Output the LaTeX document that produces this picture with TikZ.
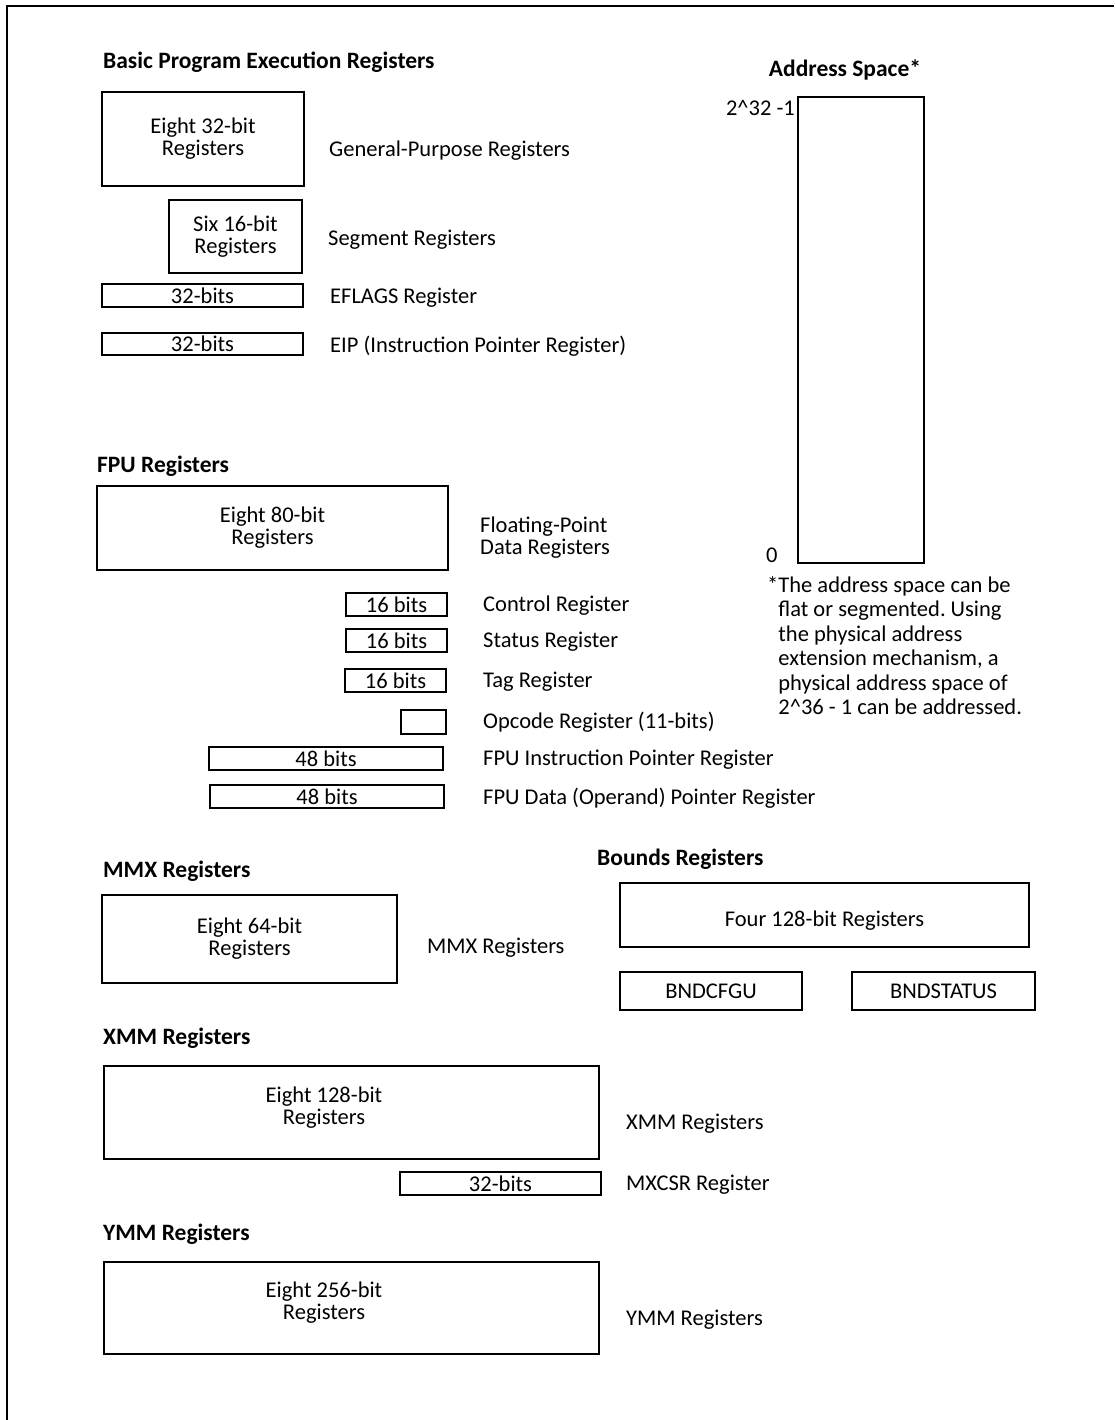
\documentclass[tikz,border=0pt]{standalone}
\usepackage{fontspec}
\setmainfont{Carlito}
\usepackage{xcolor}
\definecolor{ink}{HTML}{000000}
\frenchspacing

\begin{document}
\begin{tikzpicture}[x=1pt, y=-1pt,
    every node/.style={font=\fontsize{22.5}{22}\selectfont, text=ink},
    reg/.style={draw=ink, line width=2pt, inner sep=0pt, align=center},
    lbl/.style={anchor=west, inner sep=0pt, align=left, yshift=-2pt},
    head/.style={anchor=west, inner sep=0pt, font=\fontsize{23.5}{22}\selectfont\bfseries}]
  \useasboundingbox (0,0) rectangle (1114,1420);
  \draw[line width=2pt, color=ink] (7,1420) -- (7,6) -- (1114,6);

  % basic program execution registers
  \node[head] (basic) at (103,62) {Basic Program Execution Registers};
  \node[reg, minimum width=202, minimum height=94] (gpr) at (203,139) {Eight 32-bit\\Registers};
  \node[lbl] (gpr-l) at (329,149) {General-Purpose Registers};
  \node[reg, minimum width=133, minimum height=73] (seg) at (235.5,236.5) {Six 16-bit\\Registers};
  \node[lbl] (seg-l) at (328,238) {Segment Registers};
  \node[reg, minimum width=201, minimum height=23] (eflags) at (202.5,295.5) {32-bits};
  \node[lbl] (eflags-l) at (330,296) {EFLAGS Register};
  \node[reg, minimum width=201, minimum height=22] (eip) at (202.5,344) {32-bits};
  \node[lbl] (eip-l) at (330,344) {EIP (Instruction Pointer Register)};

  % address space
  \node[font=\fontsize{23.5}{22}\selectfont\bfseries] (addr-h) at (845,70) {Address Space*};
  \node[reg, minimum width=126, minimum height=466] (addr) at (861,330) {};
  \node[anchor=east, inner sep=0pt] (top) at (795,108) {2\textasciicircum32 -1};
  \node[lbl] (zero) at (766,553) {0};
  \node[anchor=north west, inner sep=0pt, align=left,
        font=\fontsize{22.5}{24.5}\selectfont] (note) at (767,576)
    {*The address space can be\\
     \hphantom{*}flat or segmented. Using\\
     \hphantom{*}the physical address\\
     \hphantom{*}extension mechanism, a\\
     \hphantom{*}physical address space of\\
     \hphantom{*}2\textasciicircum36 - 1 can be addressed.};

  % fpu registers
  \node[head] (fpu-h) at (97,466) {FPU Registers};
  \node[reg, minimum width=351, minimum height=84] (fpu) at (272.5,528) {Eight 80-bit\\Registers};
  \node[lbl] (fpu-l) at (480,536) {Floating-Point\\Data Registers};
  \node[reg, minimum width=101, minimum height=23] (ctrl) at (396.5,604.5) {16 bits};
  \node[lbl] (ctrl-l) at (483,604) {Control Register};
  \node[reg, minimum width=101, minimum height=23] (stat) at (396.5,640.5) {16 bits};
  \node[lbl] (stat-l) at (483,640) {Status Register};
  \node[reg, minimum width=101, minimum height=23] (tag) at (395.5,680.5) {16 bits};
  \node[lbl] (tag-l) at (483,680) {Tag Register};
  \node[reg, minimum width=45, minimum height=24] (opc) at (423.5,722) {};
  \node[lbl] (opc-l) at (483,720) {Opcode Register (11-bits)};
  \node[reg, minimum width=234, minimum height=23] (fip) at (326,758.5) {48 bits};
  \node[lbl] (fip-l) at (483,758) {FPU Instruction Pointer Register};
  \node[reg, minimum width=234, minimum height=23] (fdp) at (327,796.5) {48 bits};
  \node[lbl] (fdp-l) at (483,796) {FPU Data (Operand) Pointer Register};

  % mmx and bounds registers
  \node[head] (mmx-h) at (103,871) {MMX Registers};
  \node[reg, minimum width=295, minimum height=88] (mmx) at (249.5,939) {Eight 64-bit\\Registers};
  \node[lbl] (mmx-l) at (427,946) {MMX Registers};
  \node[head] (bnd-h) at (597,859) {Bounds Registers};
  \node[reg, minimum width=409, minimum height=64, text height=28, text depth=5] (bnd) at (824.5,915) {Four 128-bit Registers};
  \node[reg, minimum width=182, minimum height=38] (cfgu) at (711,991) {BNDCFGU};
  \node[reg, minimum width=183, minimum height=38] (bstat) at (943.5,991) {BNDSTATUS};

  % xmm registers
  \node[head] (xmm-h) at (103,1038) {XMM Registers};
  \node[reg, minimum width=495, minimum height=93] (xmm) at (351.5,1112.5) {};
  \node[align=center, inner sep=0pt] (xmm-t) at (324,1108) {Eight 128-bit\\Registers};
  \node[lbl] (xmm-l) at (626,1122) {XMM Registers};
  \node[reg, minimum width=201, minimum height=23] (mxcsr) at (500.5,1183.5) {32-bits};
  \node[lbl] (mxcsr-l) at (626,1183) {MXCSR Register};

  % ymm registers
  \node[head] (ymm-h) at (103,1234) {YMM Registers};
  \node[reg, minimum width=495, minimum height=92] (ymm) at (351.5,1308) {};
  \node[align=center, inner sep=0pt] (ymm-t) at (324,1303) {Eight 256-bit\\Registers};
  \node[lbl] (ymm-l) at (626,1318) {YMM Registers};
\end{tikzpicture}
\end{document}
